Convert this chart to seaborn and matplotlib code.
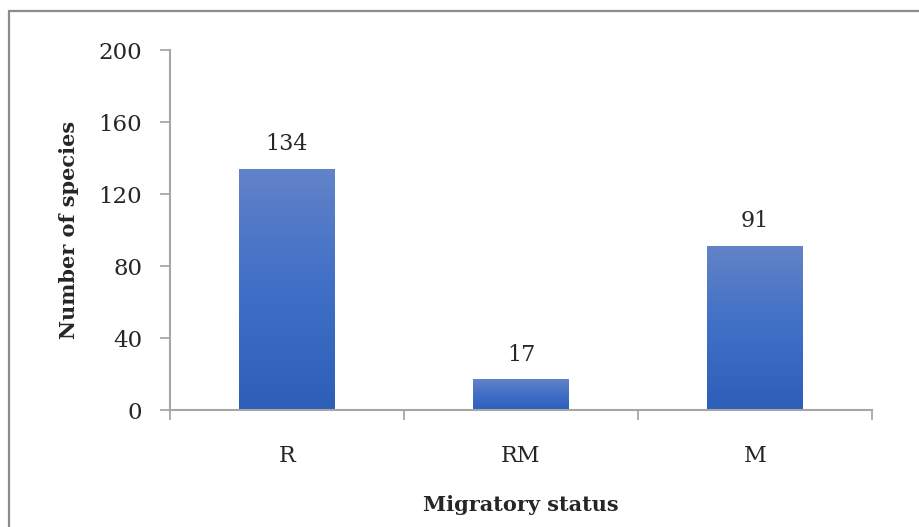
import numpy as np
import pandas as pd
import matplotlib
matplotlib.use("Agg")
import matplotlib.pyplot as plt
from matplotlib.colors import LinearSegmentedColormap
from matplotlib.lines import Line2D
import seaborn as sns

# data
status = ["R", "RM", "M"]
n_species = [134, 17, 91]
y_ticks = [0, 40, 80, 120, 160, 200]

df = pd.DataFrame({"Migratory status": status, "Number of species": n_species})

sns.set_style("white")
plt.rcParams["font.family"] = ["DejaVu Serif"]

fig = plt.figure(figsize=(9.2, 5.27), dpi=100)
ax = fig.add_axes([0.1848, 0.222, 0.763, 0.683])

ax = sns.barplot(data=df, x="Migratory status", y="Number of species",
                 color="#4472C4", width=0.41, ax=ax)

# gradient fill, lighter on top like the office chart
grad = LinearSegmentedColormap.from_list("g", ["#2E5FB8", "#3F6FC6", "#6283C8"])
ax.set_ylim(0, 200)
ax.set_xlim(-0.5, 2.5)
for p in list(ax.patches):
    x0, w, h = p.get_x(), p.get_width(), p.get_height()
    img = ax.imshow(np.linspace(0, 1, 256).reshape(-1, 1), cmap=grad,
                    origin="lower", aspect="auto",
                    extent=[x0, x0 + w, 0, h], zorder=2)
    img.set_clip_path(p)
    p.set_facecolor("none")
    p.set_edgecolor("none")
    ax.annotate(f"{int(h)}", (x0 + w / 2, h), xytext=(0, 10),
                textcoords="offset points", ha="center", va="bottom",
                fontsize=16)
ax.set_xlim(-0.5, 2.5)
ax.set_ylim(0, 200)

ax.set_yticks(y_ticks)
ax.set_xticks([-0.5, 0.5, 1.5, 2.5], minor=True)
ax.tick_params(axis="x", which="major", length=0, pad=25, labelsize=16)
ax.tick_params(axis="x", which="minor", length=7, width=1.2, color="#A0A0A0",
               direction="out", bottom=True)
ax.tick_params(axis="y", length=7, width=1.2, color="#A0A0A0", direction="out",
               left=True, pad=13, labelsize=16.5)

sns.despine(ax=ax)
for s in ["left", "bottom"]:
    ax.spines[s].set_color("#A6A6A6")
    ax.spines[s].set_linewidth(1.5)

ax.set_xlabel("Migratory status", fontsize=15, fontweight="bold", labelpad=20)
ax.set_ylabel("Number of species", fontsize=15, fontweight="bold", labelpad=14)

# grey frame of the chart area (only top and left edges fall inside the crop)
fig.lines.append(Line2D([0.0103, 1.0], [0.980, 0.980], transform=fig.transFigure,
                        color="#8C8C8C", linewidth=1.6))
fig.lines.append(Line2D([0.0103, 0.0103], [0.0, 0.980], transform=fig.transFigure,
                        color="#8C8C8C", linewidth=1.6))

fig.savefig("out.png", dpi=100)
